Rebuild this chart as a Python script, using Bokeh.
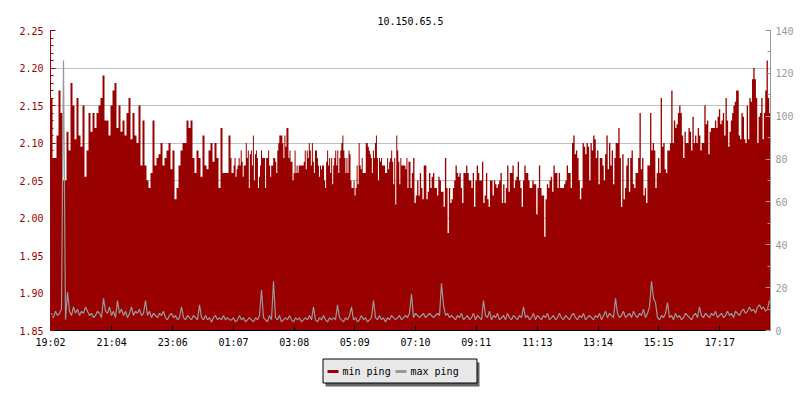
import numpy as np
from bokeh.plotting import figure
from bokeh.layouts import column
from bokeh.models import (Range1d, LinearAxis, SingleIntervalTicker, FixedTicker,
                          PrintfTickFormatter)
from bokeh.core.properties import value
from bokeh.embed import file_html
from bokeh.resources import INLINE

title_text = "10.150.65.5"
tick_labels = ["19:02", "21:04", "23:06", "01:07", "03:08", "05:09",
               "07:10", "09:11", "11:13", "13:14", "15:15", "17:17"]
series_names = ["min ping", "max ping"]
span_minutes = 1436          # length of the shown period, minutes
left_range = (1.85, 2.25)
right_range = (0, 140)

# min ping (left axis), four consecutive 6-hour blocks
min_ping_q1 = [2.16, 2.08, 2.08, 2.11, 2.17, 2.14, 2.05, 2.05, 2.115, 2.09,
               2.18, 2.15, 2.105, 2.16, 2.11, 2.095, 2.15, 2.055, 2.09, 2.14,
               2.115, 2.14, 2.12, 2.14, 2.15, 2.16, 2.19, 2.13, 2.13, 2.11,
               2.15, 2.17, 2.18, 2.12, 2.15, 2.115, 2.13, 2.11, 2.14, 2.16,
               2.105, 2.14, 2.11, 2.10, 2.15, 2.07, 2.13, 2.07, 2.05, 2.04,
               2.06, 2.13, 2.07, 2.08, 2.085, 2.10, 2.07, 2.08, 2.09, 2.10,
               2.065, 2.09, 2.025, 2.04, 2.07, 2.09, 2.10, 2.10, 2.13, 2.12,
               2.13, 2.08, 2.06, 2.09, 2.08, 2.055, 2.11, 2.07, 2.065, 2.09,
               2.10, 2.075, 2.10, 2.08, 2.04, 2.12, 2.06, 2.06, 2.06, 2.11]
min_ping_q2 = [2.08, 2.06, 2.06, 2.07, 2.08, 2.055, 2.065, 2.07, 2.08, 2.07,
               2.09, 2.075, 2.055, 2.07, 2.07, 2.10, 2.08, 2.09, 2.04, 2.085,
               2.09, 2.07, 2.11, 2.05, 2.085, 2.09, 2.08, 2.04, 2.055, 2.07,
               2.09, 2.08, 2.08, 2.08, 2.04, 2.08, 2.08, 2.09, 2.07, 2.055,
               2.07, 2.07, 2.08, 2.08, 2.075, 2.06, 2.09, 2.10, 2.11, 2.11,
               2.11, 2.10, 2.08, 2.11, 2.095, 2.12, 2.12, 2.08, 2.09, 2.075,
               2.075, 2.05, 2.06, 2.09, 2.06, 2.07, 2.06, 2.07, 2.07, 2.07,
               2.07, 2.07, 2.075, 2.09, 2.065, 2.09, 2.08, 2.10, 2.09, 2.07,
               2.10, 2.075, 2.06, 2.09, 2.09, 2.08, 2.07, 2.055, 2.07, 2.065,
               2.07, 2.07, 2.05, 2.04, 2.075, 2.09, 2.07, 2.08, 2.06, 2.08,
               2.045, 2.07, 2.08, 2.09, 2.07, 2.09, 2.06, 2.08, 2.09, 2.10,
               2.11, 2.09, 2.08, 2.06, 2.08, 2.06, 2.09, 2.085, 2.05, 2.04,
               2.04, 2.05, 2.03, 2.04, 2.07, 2.045, 2.10, 2.07, 2.065, 2.08,
               2.06, 2.06, 2.06, 2.10, 2.10, 2.095, 2.09, 2.085, 2.08, 2.06,
               2.09, 2.08, 2.10, 2.11, 2.08, 2.05, 2.08, 2.075, 2.08, 2.07,
               2.07, 2.07, 2.06, 2.06, 2.08, 2.065, 2.075, 2.08, 2.09, 2.075,
               2.045, 2.08, 2.018, 2.11, 2.09, 2.075, 2.045, 2.08, 2.07, 2.07,
               2.07, 2.07, 2.065, 2.08, 2.04, 2.075, 2.075]
min_ping_q3 = [2.04, 2.06, 2.08, 2.02, 2.03, 2.05, 2.03, 2.06, 2.04, 2.025,
               2.07, 2.07, 2.025, 2.035, 2.06, 2.04, 2.055, 2.06, 2.04, 2.04,
               2.03, 2.055, 2.05, 2.035, 2.035, 2.015, 2.08, 2.04, 1.98, 2.04,
               2.02, 2.025, 2.04, 2.05, 2.07, 2.06, 2.055, 2.06, 2.04, 2.02,
               2.06, 2.06, 2.07, 2.06, 2.05, 2.05, 2.04, 2.06, 2.015, 2.05,
               2.07, 2.06, 2.05, 2.05, 2.075, 2.02, 2.03, 2.06, 2.025, 2.015,
               2.05, 2.05, 2.03, 2.05, 2.045, 2.04, 2.045, 2.05, 2.06, 2.02,
               2.045, 2.02, 2.04, 2.07, 2.035, 2.06, 2.06, 2.07, 2.04, 2.05,
               2.055, 2.075, 2.05, 2.04, 2.015, 2.05, 2.07, 2.06, 2.06, 2.05,
               2.04, 2.04, 2.05, 2.045, 2.045, 2.005, 2.04, 2.07, 2.04, 2.03,
               2.03, 1.975, 2.025, 2.045, 2.04, 2.05, 2.055, 2.035, 2.07, 2.06,
               2.06, 2.04, 2.06, 2.04, 2.04, 2.04, 2.045, 2.05, 2.07, 2.06,
               2.06, 2.04, 2.10, 2.11, 2.085, 2.09, 2.08, 2.05, 2.025, 2.04,
               2.10, 2.095, 2.085, 2.10, 2.095, 2.05]
min_ping_q4 = [2.10, 2.09, 2.11, 2.105, 2.08, 2.09, 2.045, 2.08, 2.08, 2.07,
               2.05, 2.085, 2.11, 2.065, 2.10, 2.07, 2.09, 2.045, 2.08, 2.10,
               2.10, 2.12, 2.08, 2.015, 2.085, 2.025, 2.04, 2.07, 2.08, 2.035,
               2.08, 2.09, 2.045, 2.04, 2.06, 2.06, 2.08, 2.14, 2.065, 2.08,
               2.03, 2.04, 2.02, 2.07, 2.07, 2.14, 2.09, 2.10, 2.09, 2.04,
               2.06, 2.08, 2.06, 2.16, 2.095, 2.10, 2.065, 2.06, 2.09, 2.09,
               2.10, 2.17, 2.10, 2.13, 2.12, 2.125, 2.14, 2.15, 2.14, 2.11,
               2.08, 2.115, 2.10, 2.10, 2.12, 2.115, 2.09, 2.135, 2.10, 2.11,
               2.10, 2.12, 2.11, 2.09, 2.10, 2.10, 2.15, 2.125, 2.13, 2.085,
               2.115, 2.12, 2.12, 2.12, 2.13, 2.12, 2.135, 2.145, 2.125, 2.13,
               2.14, 2.11, 2.16, 2.13, 2.095, 2.115, 2.13, 2.14, 2.15, 2.155,
               2.17, 2.17, 2.11, 2.105, 2.14, 2.135, 2.105, 2.10, 2.15, 2.105,
               2.16, 2.155, 2.185, 2.20, 2.185, 2.16, 2.10, 2.135, 2.14, 2.16,
               2.105, 2.14, 2.17, 2.21, 2.16, 2.14]

# max ping (right axis), same four blocks
max_ping_q1 = [8, 6, 9, 7, 8, 10, 126, 5, 18, 9, 7, 11, 8, 10, 7, 9, 8, 11, 9, 7,
               8, 6, 7, 9, 8, 6, 15, 9, 8, 11, 7, 9, 6, 14, 8, 10, 7, 9, 6, 8,
               11, 7, 9, 8, 10, 7, 8, 14, 7, 9, 6, 8, 7, 6, 8, 7, 9, 6, 5, 7,
               8, 6, 7, 5, 6, 11, 6, 5, 7, 6, 5, 7, 6, 5, 12, 6, 5, 7, 5, 6,
               4, 6, 7, 5, 6, 5, 7, 5, 6, 5]
max_ping_q2 = [5, 6, 4, 5, 7, 5, 6, 4, 5, 6, 5, 4, 6, 5, 7, 19, 6, 5, 4, 7,
               5, 23, 6, 5, 7, 4, 5, 6, 5, 7, 5, 4, 6, 5, 6, 4, 5, 6, 5, 7,
               5, 11, 5, 4, 6, 5, 7, 5, 4, 6, 5, 6, 5, 12, 6, 5, 4, 6, 5, 7,
               11, 5, 6, 4, 5, 7, 5, 6, 4, 5, 6, 14, 6, 5, 7, 5, 6, 4, 6, 5,
               7, 6, 5, 6, 7, 5, 6, 7, 6, 8]
max_ping_q3 = [17, 6, 8, 7, 6, 7, 8, 6, 7, 8, 7, 6, 7, 8, 7, 22, 12, 7, 8, 6,
               7, 6, 5, 7, 6, 8, 5, 6, 7, 5, 6, 8, 5, 7, 6, 5, 14, 7, 6, 9,
               5, 7, 6, 8, 5, 6, 7, 5, 8, 6, 5, 7, 6, 5, 7, 6, 11, 6, 7, 5,
               6, 8, 5, 7, 6, 5, 7, 6, 8, 5, 6, 7, 5, 6, 8, 6, 5, 7, 6, 5,
               7, 8, 6, 5, 7, 6, 8, 5, 6, 7]
max_ping_q4 = [6, 5, 7, 6, 8, 5, 7, 9, 6, 8, 7, 6, 15, 8, 6, 7, 9, 6, 7, 8,
               6, 9, 7, 6, 8, 7, 10, 6, 8, 11, 23, 15, 13, 6, 5, 7, 6, 8, 13, 6,
               7, 5, 8, 6, 7, 5, 6, 8, 7, 6, 5, 7, 8, 6, 11, 7, 6, 8, 7, 6,
               8, 7, 9, 6, 7, 8, 6, 7, 9, 7, 8, 6, 9, 8, 7, 9, 10, 8, 9, 11,
               9, 10, 8, 11, 12, 10, 11, 9, 10, 14]

MONO = "DejaVu Sans Mono"
RED = "#990000"
GRAY = "#999999"


def block_series(blocks, closing_point):
    """Place each block's samples evenly over its quarter of the period."""
    quarter = span_minutes / len(blocks)
    xs, ys = [], []
    for q, vals in enumerate(blocks):
        n = len(vals)
        offset = 0.5 if not closing_point else 0.0
        xs.extend(q * quarter + (np.arange(n) + offset) * quarter / n)
        ys.extend(vals)
    if closing_point:
        xs.append(span_minutes)
        ys.append(ys[-1])
    return np.array(xs), np.array(ys)


x_min, y_min = block_series([min_ping_q1, min_ping_q2, min_ping_q3, min_ping_q4], True)
x_max, y_max = block_series([max_ping_q1, max_ping_q2, max_ping_q3, max_ping_q4], False)


def label_to_minutes(lbl):
    h, m = map(int, lbl.split(":"))
    h0, m0 = map(int, tick_labels[0].split(":"))
    return ((h * 60 + m) - (h0 * 60 + m0)) % 1440


tick_pos = [label_to_minutes(t) for t in tick_labels]

p = figure(width=800, height=352, output_backend="svg", toolbar_location=None,
           x_range=Range1d(0, span_minutes), y_range=Range1d(*left_range),
           min_border_left=50, min_border_right=30, min_border_top=30,
           min_border_bottom=22, outline_line_color=None,
           background_fill_color="white", border_fill_color="white")
p.extra_y_ranges = {"right": Range1d(*right_range)}

p.title.text = title_text
p.title.align = "center"
p.title.vertical_align = "middle"
p.title.text_font = MONO
p.title.text_font_size = "10px"
p.title.text_font_style = "normal"
p.title.text_color = "black"

p.varea_step(x=x_min, y1=left_range[0], y2=y_min, step_mode="after",
             fill_color=RED, fill_alpha=1)
p.line(x=x_max, y=y_max, line_color=GRAY, line_width=1.2, y_range_name="right")

# axes
xa = p.xaxis[0]
xa.ticker = FixedTicker(ticks=tick_pos, minor_ticks=[])
xa.major_label_overrides = {pos: lbl for pos, lbl in zip(tick_pos, tick_labels)}
xa.axis_line_color = "black"
xa.major_tick_line_color = "black"
xa.major_tick_in = 5
xa.major_tick_out = 0
xa.minor_tick_line_color = None
xa.major_label_standoff = 6
xa.major_label_text_font = MONO
xa.major_label_text_font_size = "10px"
xa.major_label_text_color = "black"

ya = p.yaxis[0]
ya.ticker = SingleIntervalTicker(interval=0.05, num_minor_ticks=5)
ya.formatter = PrintfTickFormatter(format="%.2f")
ya.axis_line_color = RED
ya.major_tick_line_color = RED
ya.minor_tick_line_color = RED
ya.major_tick_in = 5
ya.major_tick_out = 0
ya.minor_tick_in = 3
ya.minor_tick_out = 0
ya.major_label_standoff = 7
ya.major_label_text_font = MONO
ya.major_label_text_font_size = "10px"
ya.major_label_text_color = RED

ra = LinearAxis(y_range_name="right",
                ticker=SingleIntervalTicker(interval=20, num_minor_ticks=2))
ra.axis_line_color = GRAY
ra.major_tick_line_color = GRAY
ra.minor_tick_line_color = GRAY
ra.major_tick_in = 5
ra.major_tick_out = 0
ra.minor_tick_in = 3
ra.minor_tick_out = 0
ra.major_label_standoff = 5
ra.major_label_text_font = MONO
ra.major_label_text_font_size = "10px"
ra.major_label_text_color = GRAY
p.add_layout(ra, "right")

p.xgrid.grid_line_color = None
p.ygrid.grid_line_color = "#c0c0c0"
p.ygrid.ticker = ya.ticker

# legend strip below the chart; its frame is aligned with the chart's frame,
# so its x range is given in page pixels (50..770) and y in strip pixels.
lg = figure(width=800, height=48, output_backend="svg", toolbar_location=None,
            x_range=Range1d(50, 770), y_range=Range1d(0, 48),
            x_axis_type=None, y_axis_type=None, min_border=0,
            outline_line_color=None, border_fill_color="white",
            background_fill_color="white")
lg.grid.visible = False
lg.quad(left=[325], right=[479], bottom=[14], top=[38],
        fill_color="#646464", line_color=None)
lg.quad(left=[322.5], right=[476.5], bottom=[17.5], top=[41.5],
        fill_color="#e8e8e8", line_color="black", line_width=1)
lg.segment(x0=[327, 395], y0=[29, 29], x1=[338, 406], y1=[29, 29],
           line_color=[RED, GRAY], line_width=3)
lg.text(x=[342, 410], y=[29, 29], text=series_names,
        text_font=value(MONO), text_font_size="10px", text_color="black",
        text_baseline="middle", text_align="left")

layout = column(p, lg, spacing=0)
open("out.html", "w").write(file_html(layout, INLINE))
